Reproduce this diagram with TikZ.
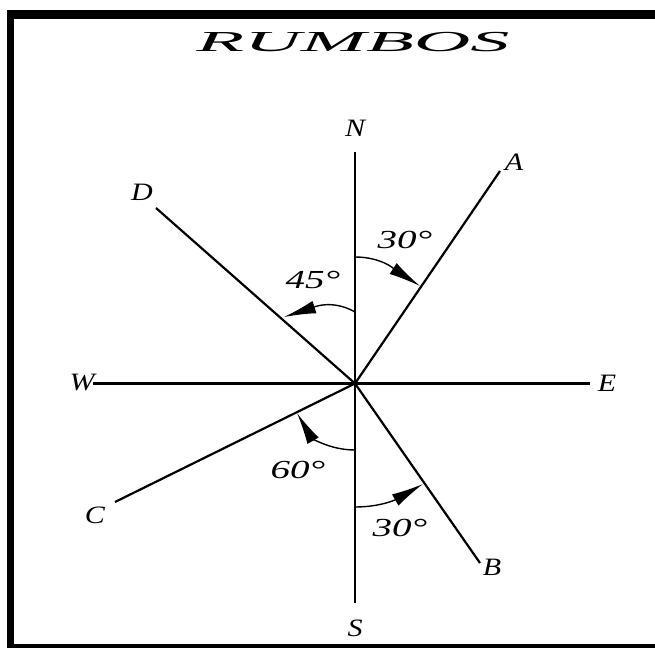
\documentclass[tikz,border=0pt]{standalone}
\usepackage{fontspec}
\setmainfont{Liberation Serif}
\usetikzlibrary{arrows.meta}
\begin{document}
\begin{tikzpicture}[x=1pt,y=1pt,
  ray/.style={line width=2.2pt},
  anglearc/.style={line width=1.4pt,-{Latex[length=32pt,width=13pt]}},
  pt/.style={inner sep=0pt,font=\fontsize{25}{25}\selectfont\itshape},
  deg/.style={inner sep=0pt,font=\fontsize{26}{26}\selectfont\itshape}]
\useasboundingbox (0,0) rectangle (655,648);
% frame
\fill (7,0) rectangle (14,638);
\fill (7,629) rectangle (655,638);
\fill (7,0) rectangle (655,4);
% title
\node[inner sep=0pt] (title) at (353,605.5)
  {\scalebox{2.7}[1]{\fontsize{29}{29}\selectfont\itshape RUMBOS}};
% centre and ray ends
\coordinate (O) at (355,264.5);
\coordinate (Nend) at (355,496);
\coordinate (Send) at (355,45);
\coordinate (Wend) at (93,264.5);
\coordinate (Eend) at (590,264.5);
\coordinate (Aend) at (500,477);
\coordinate (Dend) at (156,440);
\coordinate (Cend) at (115,146);
\coordinate (Bend) at (480,85);
% labels
\node[pt] (N) at (355,520) {\scalebox{1.2}[1]{N}};
\node[pt] (S) at (355,20) {\scalebox{1.2}[1]{S}};
\node[pt] (W) at (82,265) {\scalebox{1.2}[1]{W}};
\node[pt] (E) at (607,265) {\scalebox{1.2}[1]{E}};
\node[pt] (A) at (514,486) {\scalebox{1.2}[1]{A}};
\node[pt] (D) at (142,456) {\scalebox{1.2}[1]{D}};
\node[pt] (C) at (95,133) {\scalebox{1.2}[1]{C}};
\node[pt] (B) at (492,81) {\scalebox{1.2}[1]{B}};
% rays
\draw[ray] (Wend) -- (Eend);
\draw[ray] (Send) -- (Nend);
\draw[ray] (O) -- (Aend);
\draw[ray] (O) -- (Dend);
\draw[ray] (O) -- (Cend);
\draw[ray] (O) -- (Bend);
% angle arcs
\coordinate (a1s) at (355,391);
\coordinate (a1e) at (420,362);
\coordinate (a2s) at (355,336);
\coordinate (a2e) at (284,331);
\coordinate (a3s) at (355,198);
\coordinate (a3e) at (297,235);
\coordinate (a4s) at (355,141);
\coordinate (a4e) at (423,164);
\draw[anglearc] (a1s) to[out=0,in=147] (a1e);
\draw[anglearc] (a2s) to[out=150,in=18] (a2e);
\draw[anglearc] (a3s) to[out=180,in=300] (a3e);
\draw[anglearc] (a4s) to[out=0,in=210] (a4e);
% angle labels
\node[deg] (g1) at (405,408) {\scalebox{1.5}[1]{30°}};
\node[deg] (g2) at (313,368) {\scalebox{1.5}[1]{45°}};
\node[deg] (g3) at (298,178) {\scalebox{1.5}[1]{60°}};
\node[deg] (g4) at (400,120) {\scalebox{1.5}[1]{30°}};
\end{tikzpicture}
\end{document}
